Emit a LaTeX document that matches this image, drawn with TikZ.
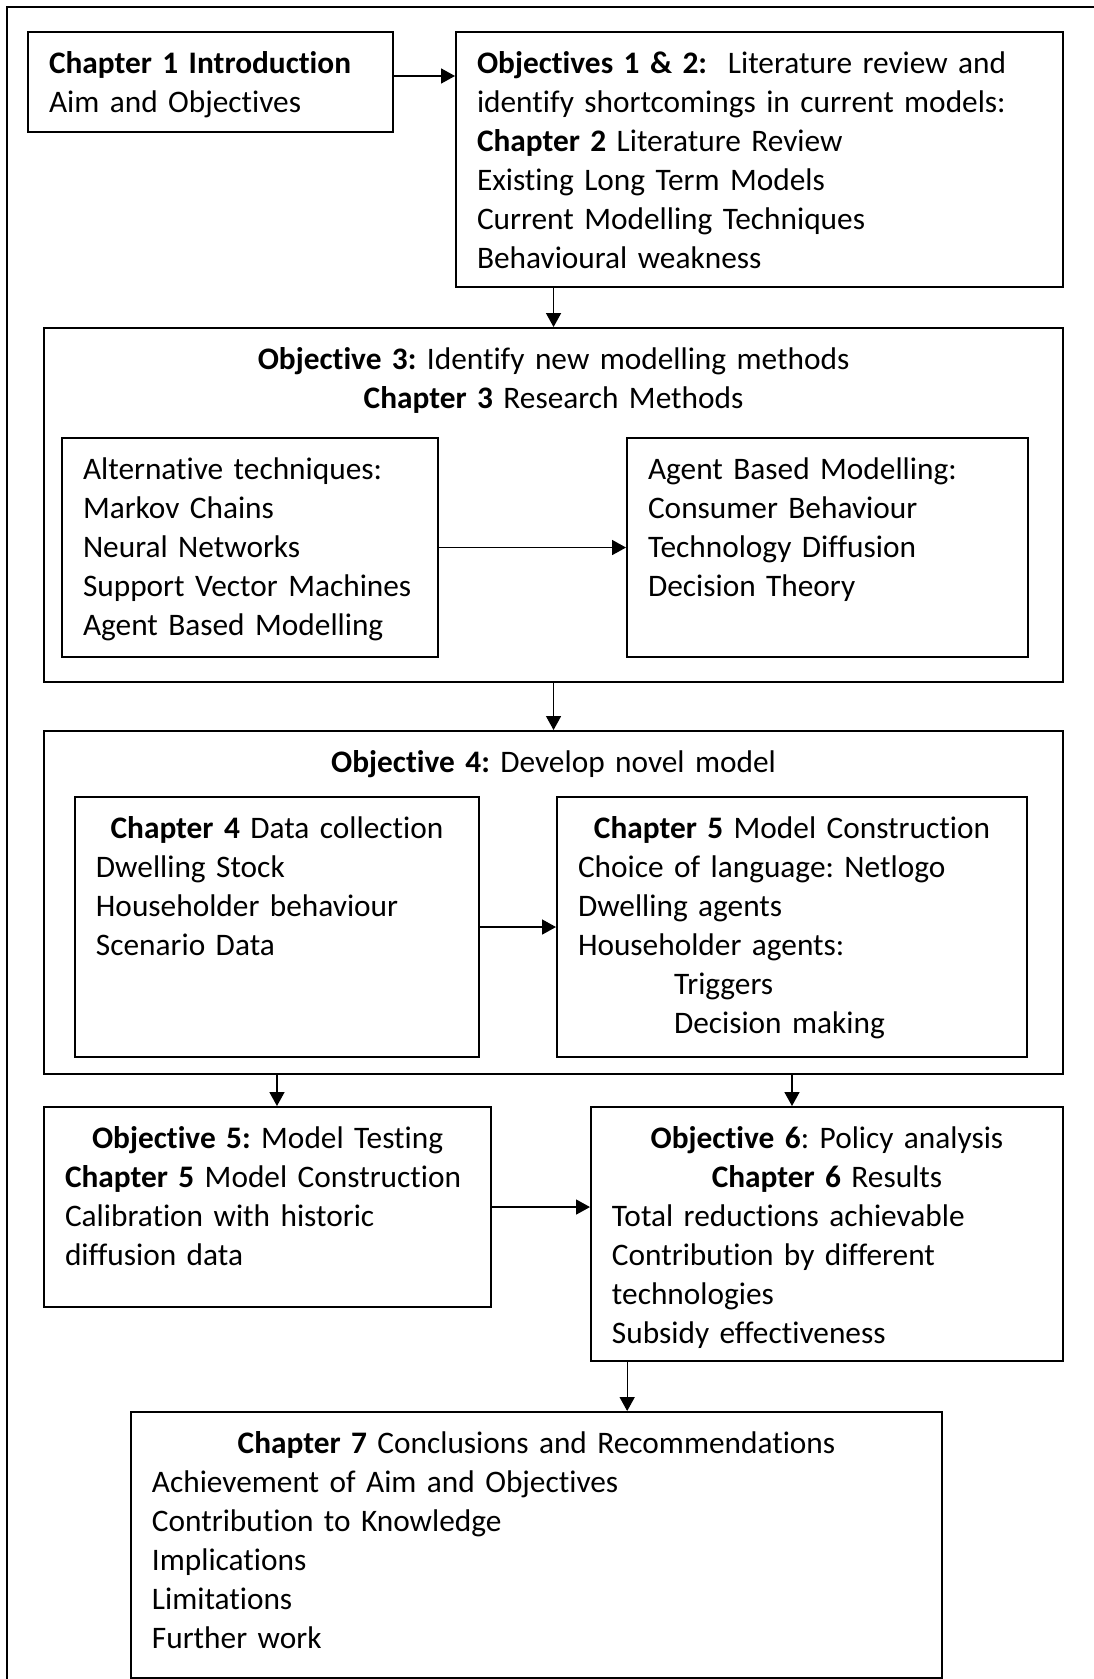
\documentclass[tikz,border=0pt]{standalone}
\usepackage{fontspec}
\setmainfont{Carlito}[Ligatures={NoCommon,NoContextual},Contextuals=NoAlternate]
\usepackage{tikz}
\usetikzlibrary{arrows.meta}

\begin{document}
\begin{tikzpicture}
  \tikzstyle{every node}=[font=\fontsize{11.75pt}{14.63pt}\selectfont\frenchspacing]
  \tikzstyle{blk}=[draw,line width=0.75pt,anchor=north west,align=left,
    inner xsep=7.875pt,inner ysep=5.14pt,execute at begin node=\strut]
  \tikzstyle{arr}=[line width=0.5pt,-{Triangle[length=5.2pt,width=5.6pt]}]
  \useasboundingbox (0,0) rectangle (14.406,-22.129);
  % page frame, cut off at right and bottom
  \draw[line width=0.75pt] (0.092,-22.3) -- (0.092,-0.092) -- (14.6,-0.092);
  % top row
  \node[blk,text width=121.1pt,text depth=17pt] (intro) at (0.356,-0.409)
    {\textbf{Chapter 1 Introduction}\\ Aim and Objectives};
  \node[blk,text width=211.9pt,text depth=75.1pt] (lit) at (5.997,-0.409)
    {\textbf{Objectives 1 \& 2:}\ \ Literature review and\\
     identify shortcomings in current models:\\
     \textbf{Chapter 2} Literature Review\\
     Existing Long Term Models\\
     Current Modelling Techniques\\
     Behavioural weakness};
  % objective 3
  \node[blk,text width=366.4pt,text depth=112.25pt] (obj3) at (0.567,-4.310)
    {{\centering \textbf{Objective 3:} Identify new modelling methods\\
      \textbf{Chapter 3} Research Methods\par}};
  \node[blk,text width=125.25pt,text depth=61.6pt] (alt) at (0.804,-5.760)
    {Alternative techniques:\\ Markov Chains\\ Neural Networks\\
     \mbox{Support Vector Machines}\\ Agent Based Modelling};
  \node[blk,text width=134.6pt,text depth=61.6pt] (abm) at (8.251,-5.760)
    {Agent Based Modelling:\\ Consumer Behaviour\\ Technology Diffusion\\
     Decision Theory};
  % objective 4
  \node[blk,text width=366.4pt,text depth=108.1pt] (obj4) at (0.567,-9.621)
    {{\centering \textbf{Objective 4:} Develop novel model\par}};
  \node[blk,text width=135.75pt,text depth=77pt] (data) at (0.975,-10.491)
    {{\centering \textbf{Chapter 4} Data collection\par}
     Dwelling Stock\\ Householder behaviour\\ Scenario Data};
  \node[blk,text width=160.5pt,text depth=77pt] (cons) at (7.328,-10.491)
    {{\centering \textbf{Chapter 5} Model Construction\par}
     Choice of language: Netlogo\\ Dwelling agents\\ Householder agents:\\
     \hspace*{36pt}Triggers\\ \hspace*{36pt}Decision making};
  % objectives 5 and 6
  \node[blk,text width=151.9pt,text depth=54.5pt] (test) at (0.567,-14.577)
    {{\centering \textbf{Objective 5:} Model Testing\par}
     \textbf{Chapter 5} Model Construction\\
     Calibration with historic\\ diffusion data};
  \node[blk,text width=161.25pt,text depth=74.75pt] (policy) at (7.776,-14.577)
    {{\centering \textbf{Objective 6}: Policy analysis\\
      \textbf{Chapter 6} Results\par}
     Total reductions achievable\\ Contribution by different\\
     technologies\\ Subsidy effectiveness};
  % conclusions
  \node[blk,text width=288.4pt,text depth=79.25pt] (concl) at (1.713,-18.597)
    {{\centering \textbf{Chapter 7} Conclusions and Recommendations\par}
     Achievement of Aim and Objectives\\ Contribution to Knowledge\\
     Implications\\ Limitations\\ Further work};
  % connectors
  \draw[arr] ([yshift=0.08cm]intro.east) coordinate (i1) -- (i1 -| lit.west);
  \draw[arr] (obj3.north |- lit.south) -- (obj3.north);
  \draw[arr] (alt.east) -- (abm.west);
  \draw[arr] (obj3.south) -- (obj4.north);
  \draw[arr] (data.east) -- (data.east -| cons.west);
  \draw[arr] (data.south |- obj4.south) -- (data.south |- test.north);
  \draw[arr] (cons.south |- obj4.south) -- (cons.south |- policy.north);
  \draw[arr] (test.east) -- (test.east -| policy.west);
  \draw[arr] ([xshift=0.49cm]policy.south west) coordinate (p7) -- (p7 |- concl.north);
\end{tikzpicture}
\end{document}
